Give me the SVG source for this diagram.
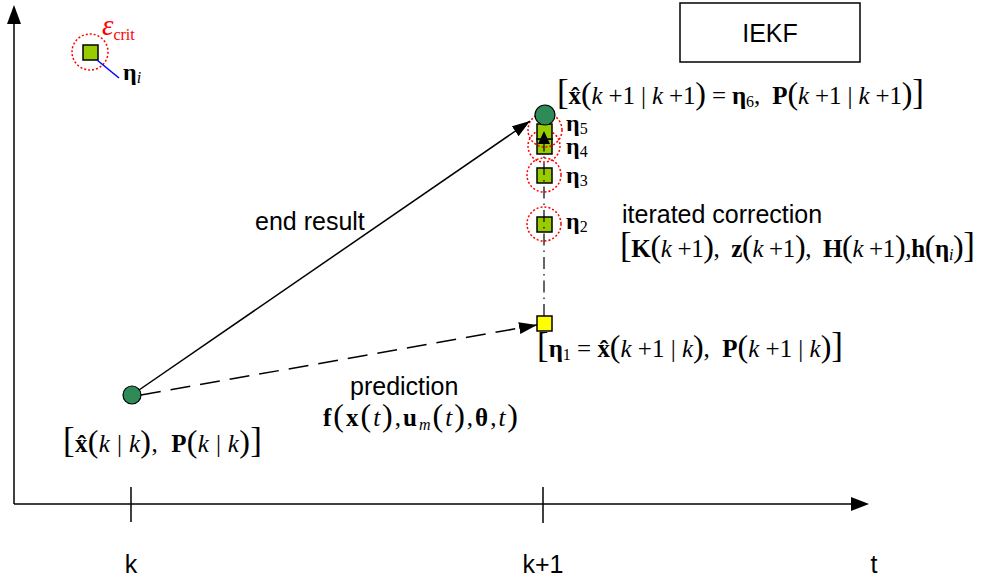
<svg xmlns="http://www.w3.org/2000/svg" width="1006" height="578" viewBox="0 0 1006 578">
<style>
.ax{stroke:#000;stroke-width:1.5;fill:none}
.s{font-family:"Liberation Sans",Arial,sans-serif;font-size:25px;fill:#000}
.m{font-family:"Liberation Serif","Times New Roman",serif;font-size:25px;fill:#000;white-space:pre}
.b{font-weight:bold}
.i{font-style:italic}
.br{font-size:35px}
.pa{font-size:32px}
.sub{font-size:16px}
.gsq{fill:#99cc00;stroke:#000;stroke-width:1.5}
.ysq{fill:#ffff00;stroke:#000;stroke-width:1.5}
.gc{fill:#2e8b57;stroke:#000;stroke-width:1.2}
.rc{fill:none;stroke:#ff0000;stroke-width:1.5;stroke-dasharray:2 2}
.eta{font-family:"Liberation Serif","Times New Roman",serif;font-size:24px;font-weight:bold}
</style>
<defs>
<marker id="ah" markerUnits="userSpaceOnUse" markerWidth="20" markerHeight="14" refX="18" refY="6" orient="auto">
<path d="M0,0 L18,6 L0,12 z" fill="#000"/>
</marker>
<marker id="ahs" markerUnits="userSpaceOnUse" markerWidth="16" markerHeight="14" refX="13" refY="6" orient="auto">
<path d="M0,0 L13,6 L0,12 z" fill="#000"/>
</marker>
</defs>
<rect width="1006" height="578" fill="#fff"/>

<g id="axes">
<line class="ax" x1="14" y1="504" x2="14" y2="22"/>
<path d="M7,24 L14,5 L21,24 z" fill="#000"/>
<line class="ax" x1="14" y1="504" x2="852" y2="504"/>
<path d="M851,497 L869,504 L851,511 z" fill="#000"/>
<line class="ax" x1="131" y1="487" x2="131" y2="522"/>
<line class="ax" x1="543" y1="487" x2="543" y2="523"/>
<text class="s" x="131" y="573" text-anchor="middle" font-size="21">k</text>
<text class="s" x="543" y="573" text-anchor="middle" font-size="21">k+1</text>
<text class="s" x="874" y="573" text-anchor="middle" font-size="21">t</text>
</g>

<g id="legend">
<rect class="gsq" x="83" y="45" width="15" height="15"/>
<circle class="rc" cx="90" cy="52" r="18"/>
<line x1="97" y1="60" x2="119" y2="78" stroke="#0000ff" stroke-width="1.5"/>
<text x="102" y="35" fill="#ff0000" font-family="Liberation Serif,serif" font-style="italic" font-size="29">ε<tspan font-style="normal" font-size="16" dy="5">crit</tspan></text>
<text x="123" y="80" class="eta">η<tspan class="sub i" font-weight="normal" dy="3">i</tspan></text>
</g>

<g id="iekf">
<rect x="680" y="3" width="180" height="59" fill="#fff" stroke="#000" stroke-width="1.5"/>
<text class="s" x="770" y="42" text-anchor="middle" font-size="24">IEKF</text>
</g>

<g id="start">
<circle class="gc" cx="132" cy="395" r="9"/>
<text class="m" x="63" y="452" textLength="199" lengthAdjust="spacing"><tspan class="br">[</tspan><tspan class="b">x̂</tspan><tspan class="pa">(</tspan><tspan class="i">k</tspan> | <tspan class="i">k</tspan><tspan class="pa">)</tspan>,  <tspan class="b">P</tspan><tspan class="pa">(</tspan><tspan class="i">k</tspan> | <tspan class="i">k</tspan><tspan class="pa">)</tspan><tspan class="br">]</tspan></text>
</g>

<g id="eta1">
<rect class="ysq" x="537" y="316" width="15" height="15"/>
<text class="m" x="537" y="357" textLength="306" lengthAdjust="spacing"><tspan class="br">[</tspan><tspan class="b">η</tspan><tspan class="sub" dy="3">1</tspan><tspan dy="-3"> = </tspan><tspan class="b">x̂</tspan><tspan class="pa">(</tspan><tspan class="i">k</tspan> +1 | <tspan class="i">k</tspan><tspan class="pa">)</tspan>,  <tspan class="b">P</tspan><tspan class="pa">(</tspan><tspan class="i">k</tspan> +1 | <tspan class="i">k</tspan><tspan class="pa">)</tspan><tspan class="br">]</tspan></text>
</g>

<g id="eta2">
<rect class="gsq" x="537" y="217" width="15" height="15"/>
<circle class="rc" cx="544" cy="224" r="17"/>
<text class="eta" x="566" y="229">η<tspan class="sub" font-weight="normal" dy="3">2</tspan></text>
</g>

<g id="eta3">
<rect class="gsq" x="537" y="168" width="15" height="15"/>
<circle class="rc" cx="544" cy="175" r="17"/>
<text class="eta" x="566" y="183">η<tspan class="sub" font-weight="normal" dy="3">3</tspan></text>
</g>

<g id="eta4">
<rect class="gsq" x="537" y="139" width="15" height="15"/>
<circle class="rc" cx="544" cy="146" r="16"/>
<text class="eta" x="566" y="154">η<tspan class="sub" font-weight="normal" dy="3">4</tspan></text>
</g>

<g id="eta5">
<rect class="gsq" x="537" y="124" width="15" height="15"/>
<circle class="rc" cx="545" cy="130" r="17"/>
<text class="eta" x="566" y="131">η<tspan class="sub" font-weight="normal" dy="3">5</tspan></text>
</g>

<g id="connectors">
<line x1="139" y1="390" x2="530" y2="121" stroke="#000" stroke-width="1.5" marker-end="url(#ah)"/>
<line x1="141" y1="395" x2="537" y2="325" stroke="#000" stroke-width="1.5" stroke-dasharray="20 10" marker-end="url(#ah)"/>
<line x1="544" y1="316" x2="544" y2="131" stroke="#000" stroke-width="1.2" stroke-dasharray="12 5 1.5 5" marker-end="url(#ahs)"/>
</g>

<g id="result">
<circle class="gc" cx="545" cy="115" r="10"/>
<text class="m" x="557" y="104" textLength="367" lengthAdjust="spacing"><tspan class="br">[</tspan><tspan class="b">x̂</tspan><tspan class="pa">(</tspan><tspan class="i">k</tspan> +1 | <tspan class="i">k</tspan> +1<tspan class="pa">)</tspan> = <tspan class="b">η</tspan><tspan class="sub" dy="3">6</tspan><tspan dy="-3">,  </tspan><tspan class="b">P</tspan><tspan class="pa">(</tspan><tspan class="i">k</tspan> +1 | <tspan class="i">k</tspan> +1<tspan class="pa">)</tspan><tspan class="br">]</tspan></text>
</g>

<g id="labels">
<text class="s" x="255" y="230">end result</text>
<text class="s" x="350" y="395">prediction</text>
<text class="m" x="323" y="426" textLength="195" lengthAdjust="spacing"><tspan class="b">f</tspan><tspan class="pa">(</tspan><tspan class="b">x</tspan><tspan class="pa">(</tspan><tspan class="i">t</tspan><tspan class="pa">)</tspan>,<tspan class="b">u</tspan><tspan class="sub i" dy="4">m</tspan><tspan class="pa" dy="-4">(</tspan><tspan class="i">t</tspan><tspan class="pa">)</tspan>,<tspan class="b">θ</tspan>,<tspan class="i">t</tspan><tspan class="pa">)</tspan></text>
<text class="s" x="622" y="223">iterated correction</text>
<text class="m" x="620" y="257" textLength="355" lengthAdjust="spacing"><tspan class="br">[</tspan><tspan class="b">K</tspan><tspan class="pa">(</tspan><tspan class="i">k</tspan> +1<tspan class="pa">)</tspan>,  <tspan class="b">z</tspan><tspan class="pa">(</tspan><tspan class="i">k</tspan> +1<tspan class="pa">)</tspan>,  <tspan class="b">H</tspan><tspan class="pa">(</tspan><tspan class="i">k</tspan> +1<tspan class="pa">)</tspan>,<tspan class="b">h</tspan><tspan class="pa">(</tspan><tspan class="b">η</tspan><tspan class="sub i" dy="3">i</tspan><tspan class="pa" dy="-3">)</tspan><tspan class="br">]</tspan></text>
</g>
</svg>
